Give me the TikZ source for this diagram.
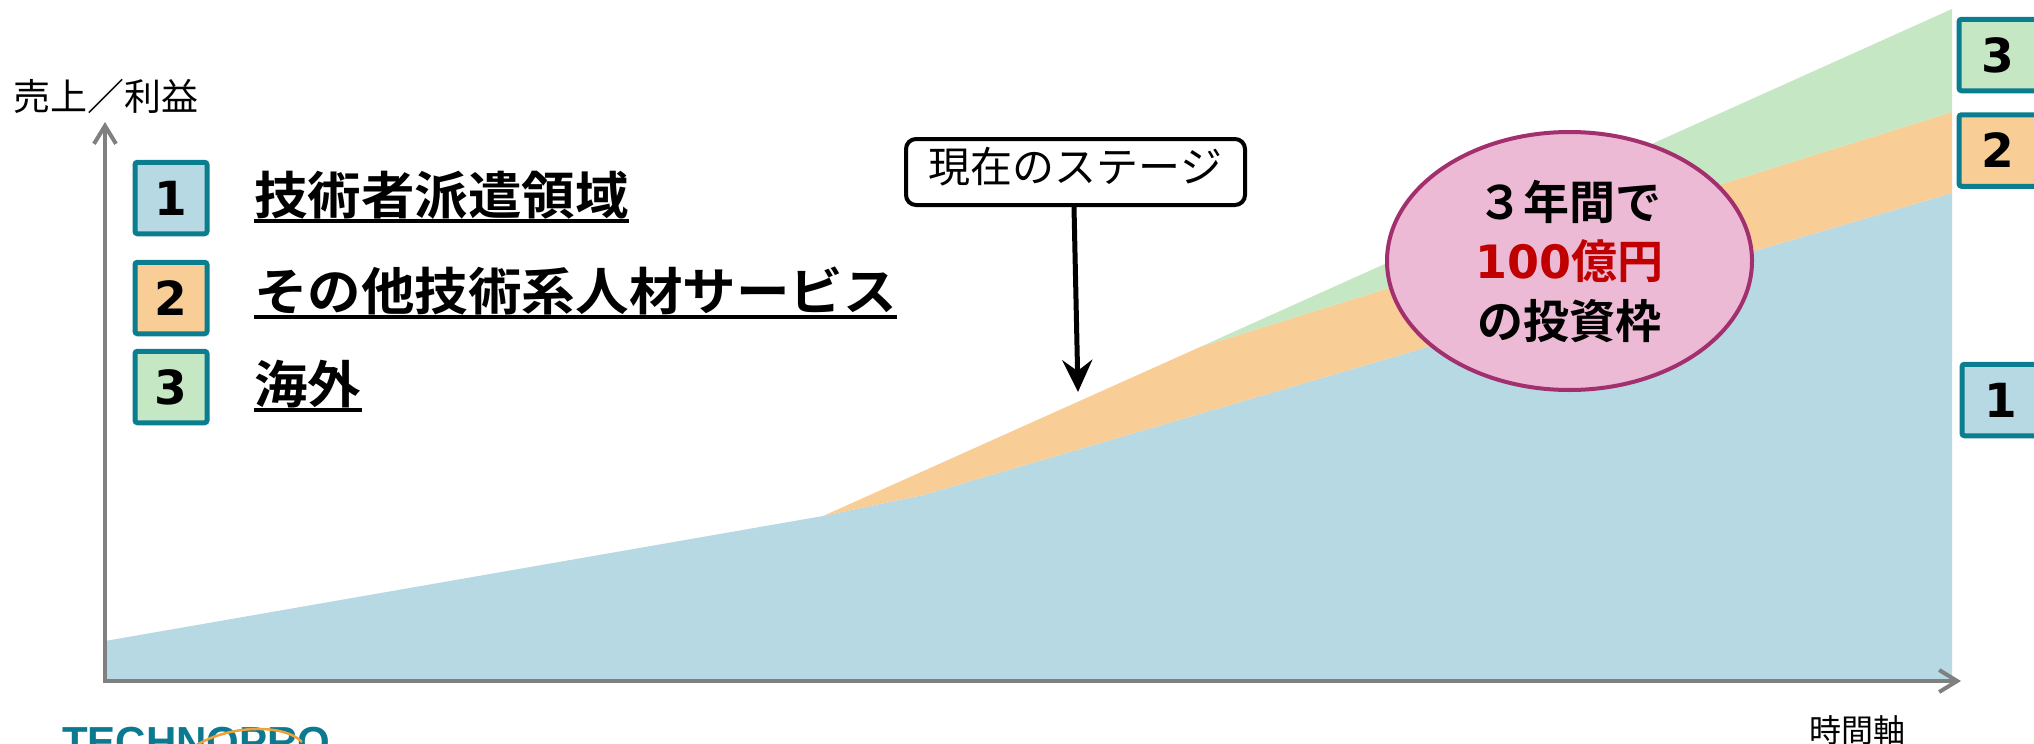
\documentclass[tikz,border=0pt]{standalone}
\usepackage{fontspec}
\setmainfont{Noto Sans CJK JP}[BoldFont={Noto Sans CJK JP Bold}]
\newfontfamily\jpbw{Noto Sans CJK JP Bold}[FakeStretch=1.05]
\newfontfamily\digitfont{DejaVu Sans}[BoldFont={DejaVu Sans Bold}]
\newfontfamily\logofont{Liberation Sans}[BoldFont={Liberation Sans Bold}]
\usetikzlibrary{arrows.meta,shapes.geometric}
\definecolor{areablue}{HTML}{B7D9E4}
\definecolor{areaorange}{HTML}{F9CD96}
\definecolor{areagreen}{HTML}{C6E7C3}
\definecolor{boxteal}{HTML}{0A7D8E}
\definecolor{axisgray}{HTML}{808080}
\definecolor{ellpink}{HTML}{EDBAD5}
\definecolor{ellborder}{HTML}{A3306E}
\definecolor{bigred}{HTML}{C00000}
\definecolor{logoteal}{HTML}{0B7A90}
\definecolor{logoorange}{HTML}{F0A23A}
\tikzset{
  numbox/.style={draw=boxteal, line width=5pt, rounded corners=2.5pt, minimum width=72pt, minimum height=71.5pt,
    inner sep=0pt, font=\digitfont\bfseries\fontsize{47}{56}\selectfont},
  legendtext/.style={anchor=base west, inner sep=0pt, font=\jpbw\fontsize{51}{60}\selectfont},
  uline/.style={line width=4.5pt},
  axisline/.style={draw=axisgray, line width=4pt},
  stagebox/.style={draw, fill=white, line width=4pt, rounded corners=10pt, minimum width=339pt,
    minimum height=66pt, inner sep=0pt, font=\fontsize{42}{50}\selectfont},
  investell/.style={ellipse, draw=ellborder, fill=ellpink, line width=4pt, minimum width=365pt,
    minimum height=258pt, inner sep=0pt, align=center, font=\fontsize{46}{59.5}\selectfont\bfseries},
}
\begin{document}
\begin{tikzpicture}[x=1pt,y=-1pt]
\useasboundingbox (0,0) rectangle (2034,744);
% stacked areas
\fill[areablue] (105,641) -- (823,516) -- (923,495) -- (1952,193) -- (1952,681) -- (105,681) -- cycle;
\fill[areaorange] (823,516) -- (1200,347) -- (1952,112) -- (1952,193) -- (923,495) -- cycle;
\fill[areagreen] (1200,347) -- (1952,9) -- (1952,112) -- cycle;
% axes
\coordinate (ytop) at (105,122);
\coordinate (origin) at (105,681);
\coordinate (xend) at (1961,681);
\draw[axisline, {Straight Barb[length=18pt,width=22pt]}-{Straight Barb[length=18pt,width=22pt]}]
  (ytop) -- (origin) -- (xend);
\node[font=\fontsize{37}{44}\selectfont] (ylab) at (105.5,96) {売上／利益};
\node[font=\fontsize{32}{38}\selectfont] (xlab) at (1857.5,730) {時間軸};
% legend
\node[numbox, fill=areablue] (b1) at (171,198) {1};
\node[numbox, fill=areaorange] (b2) at (171,298) {2};
\node[numbox, fill=areagreen] (b3) at (171,387) {3};
\node[legendtext] (l1) at (254,214) {技術者派遣領域};
\node[legendtext] (l2) at (254,310) {その他技術系人材サービス};
\node[legendtext] (l3) at (254,403) {海外};
\draw[uline] ([yshift=-7pt]l1.base west) -- ([yshift=-7pt]l1.base east);
\draw[uline] ([yshift=-7pt]l2.base west) -- ([yshift=-7pt]l2.base east);
\draw[uline] ([yshift=-7pt]l3.base west) -- ([yshift=-7pt]l3.base east);
% right-hand boxes
\node[numbox, fill=areagreen, minimum width=78pt] (r3) at (1998,55) {3};
\node[numbox, fill=areaorange, minimum width=78pt] (r2) at (1998,150.5) {2};
\node[numbox, fill=areablue, minimum width=78pt] (r1) at (2001,400) {1};
% current stage callout
\node[stagebox] (stage) at (1075.5,172) {\raisebox{5pt}[0.88em][0.12em]{現在のステージ}};
\coordinate (stagetip) at (1078,392);
\draw[line width=5pt, -{Stealth[length=32pt,width=30pt,inset=11pt]}] ([xshift=-1.5pt]stage.south) -- (stagetip);
% investment ellipse
\node[investell] (invest) at (1569.5,261) {３年間で\\\textcolor{bigred}{{\digitfont 100}億円}\\の投資枠};
% logo
\node[anchor=base west, inner sep=0pt, font=\logofont\bfseries\fontsize{42}{50}\selectfont, text=logoteal] (logo) at (62,756) {TECHNOPRO};
\draw[logoorange, line width=2.5pt] (195,746) .. controls (230,724) and (285,724) .. (302,742);
\end{tikzpicture}
\end{document}
